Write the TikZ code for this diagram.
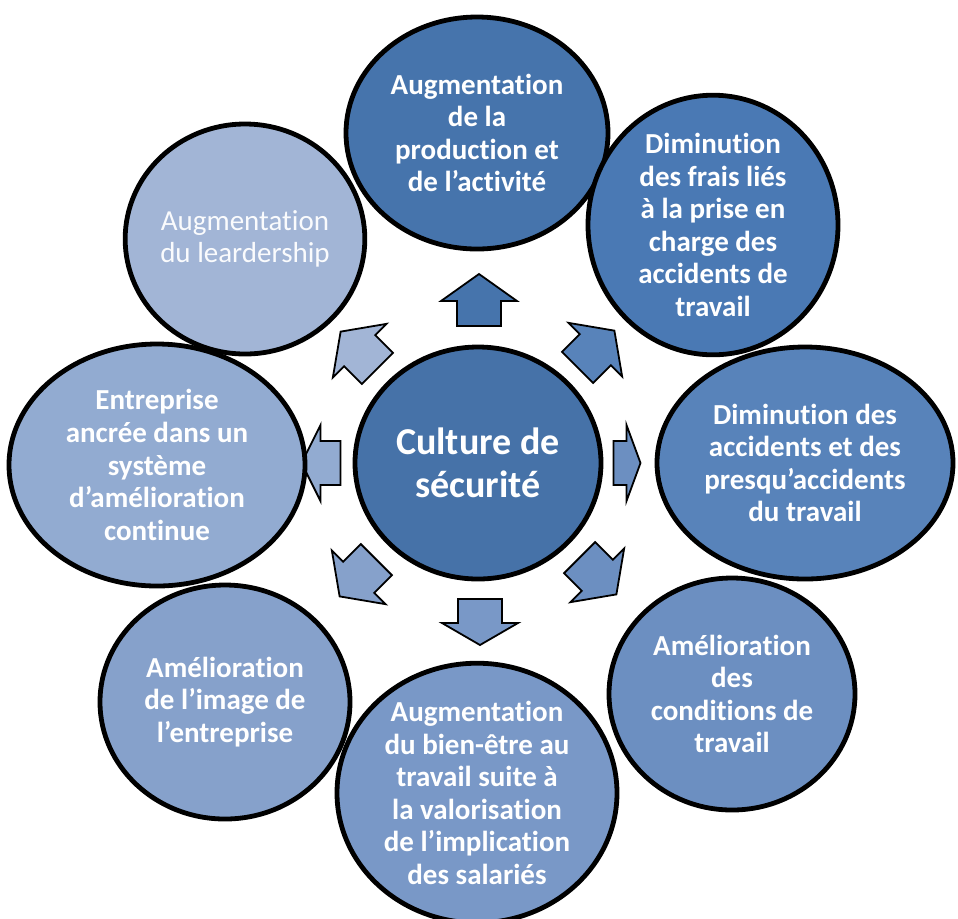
\documentclass[tikz,border=0pt]{standalone}
\usepackage{fontspec}
\setmainfont{Carlito}[Ligatures=NoCommon, Contextuals=NoAlternate]
\usetikzlibrary{shapes.geometric}
\definecolor{shadeA}{RGB}{70,116,172}
\definecolor{shadeB}{RGB}{74,121,180}
\definecolor{shadeC}{RGB}{88,131,186}
\definecolor{shadeD}{RGB}{108,143,193}
\definecolor{shadeE}{RGB}{121,152,199}
\definecolor{shadeF}{RGB}{134,161,203}
\definecolor{shadeG}{RGB}{146,171,209}
\definecolor{shadeH}{RGB}{162,181,214}
\definecolor{core}{RGB}{70,114,168}

\tikzset{
  bubble/.style={ellipse, draw=black, line width=2.4pt, text=white, align=center,
    inner sep=0pt, font=\fontsize{14.5}{16.3}\selectfont\bfseries},
  blockarrow/.style={draw=black, line width=0.9pt, line join=miter},
}

\begin{document}
\begin{tikzpicture}[x=0.5pt, y=-0.5pt]
  \useasboundingbox (0,0) rectangle (958,918);

  % arrows going out of the centre
  \foreach \cx/\cy/\ang/\len/\hd/\col in {479/300/90/52/27/shadeA, 596/349/45/52/27/shadeC,
      627/463/0/27/14/shadeD, 598/576/-45/52/27/shadeD, 480/622/-90/46/22/shadeE,
      358/578/-135/52/27/shadeF, 321/463/180/39/19/shadeG, 359/350/135/52/27/shadeH} {
    \draw[blockarrow, fill=\col, shift={(\cx,\cy)}, rotate=\ang]
      ({-\len/2},-22) -- ({\len/2-\hd},-22) -- ({\len/2-\hd},-38) -- ({\len/2},0)
      -- ({\len/2-\hd},38) -- ({\len/2-\hd},22) -- ({-\len/2},22) -- cycle;
  }

  \node[bubble, fill=core, minimum width=123pt, minimum height=116pt,
    font=\fontsize{19}{21.5}\selectfont\bfseries] (culture) at (478,463) {Culture de\\sécurité};

  \node[bubble, fill=shadeA, minimum width=131pt, minimum height=116pt] (prod) at (477,133)
    {Augmentation\\de la\\production et\\de l’activité};
  \node[bubble, fill=shadeB, minimum width=125pt, minimum height=113pt] (frais) at (713,225)
    {Diminution\\des frais liés\\à la prise en\\charge des\\accidents de\\travail};
  \node[bubble, fill=shadeC, minimum width=148pt, minimum height=116pt] (accid) at (805,463)
    {Diminution des\\accidents et des\\presqu’accidents\\du travail};
  \node[bubble, fill=shadeD, minimum width=123pt, minimum height=116pt] (cond) at (732,694)
    {Amélioration\\des\\conditions de\\travail};
  \node[bubble, fill=shadeE, minimum width=140pt, minimum height=120pt] (bienetre) at (477,793)
    {Augmentation\\du bien-être au\\travail suite à\\la valorisation\\de l’implication\\des salariés};
  \node[bubble, fill=shadeF, minimum width=125pt, minimum height=117pt] (image) at (225,702)
    {Amélioration\\de l’image de\\l’entreprise};
  \node[bubble, fill=shadeG, minimum width=148pt, minimum height=121pt] (amelio) at (157,465)
    {Entreprise\\ancrée dans un\\système\\d’amélioration\\continue};
  \node[bubble, fill=shadeH, minimum width=115pt, minimum height=115pt,
    font=\fontsize{14.5}{16.3}\selectfont, text=white!95!shadeH] (leader) at (245,239)
    {Augmentation\\du leardership};

\end{tikzpicture}
\end{document}
